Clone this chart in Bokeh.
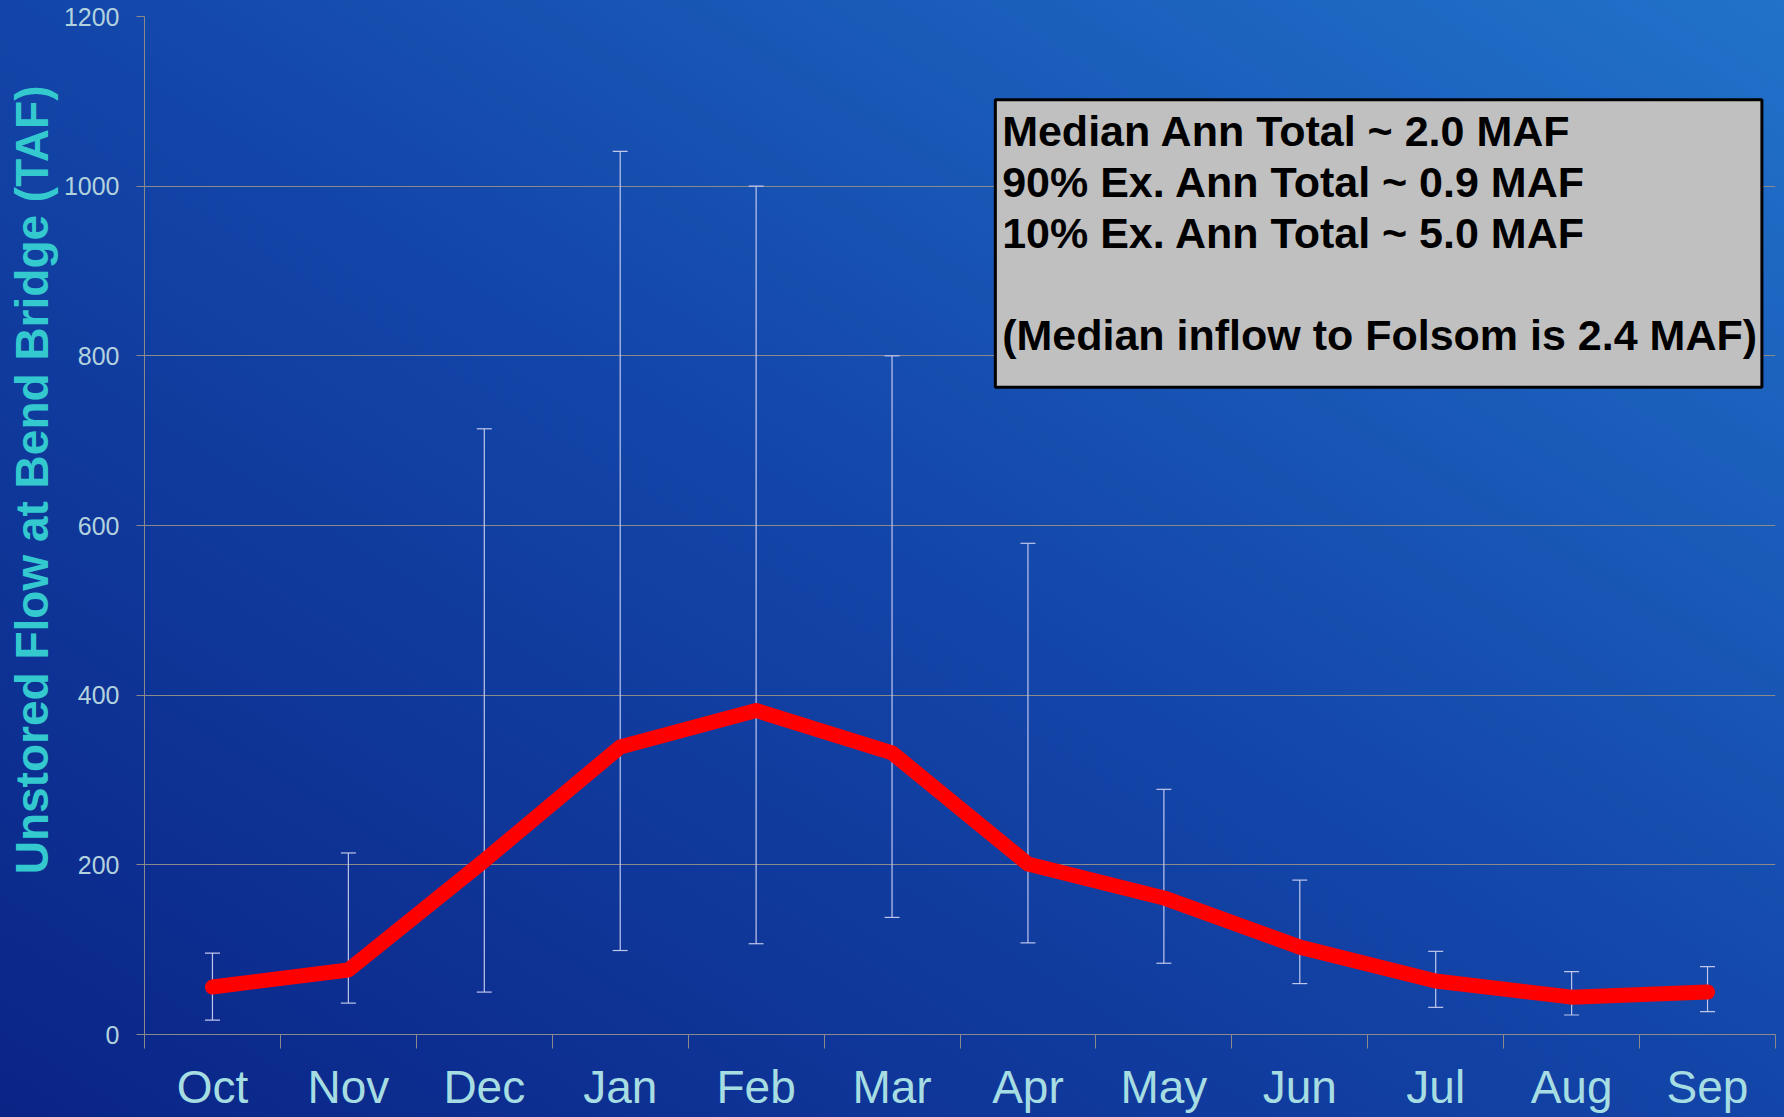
import numpy as np
from bokeh.plotting import figure
from bokeh.models import (ColumnDataSource, Whisker, TeeHead, FixedTicker, Range1d,
                          BoxAnnotation, Label, Title)
from bokeh.embed import file_html
from bokeh.resources import INLINE

# ---- data (TAF) ----
months = ["Oct", "Nov", "Dec", "Jan", "Feb", "Mar", "Apr", "May", "Jun", "Jul", "Aug", "Sep"]
median_flow = [56, 76, 205, 339, 382, 332, 201, 161, 103, 63, 44, 50]
exceed_90 = [17, 37, 50, 99, 107, 138, 108, 84, 60, 32, 23, 27]      # lower whisker
exceed_10 = [96, 214, 714, 1041, 1000, 800, 579, 289, 182, 98, 74, 80]  # upper whisker
y_ticks = [0, 200, 400, 600, 800, 1000, 1200]
y_label = "Unstored Flow at Bend Bridge (TAF)"
note_lines = ["Median Ann Total ~ 2.0 MAF",
              "90% Ex. Ann Total ~ 0.9 MAF",
              "10% Ex. Ann Total ~ 5.0 MAF",
              "",
              "(Median inflow to Folsom is 2.4 MAF)"]

xpos = np.arange(len(months)) + 0.5
src = ColumnDataSource(dict(x=xpos, med=median_flow, lo=exceed_90, hi=exceed_10))

FONT = "Liberation Sans"
GRID = "#8a8a8a"

p = figure(width=1782, height=1115, output_backend="svg", toolbar_location=None,
           x_range=Range1d(0, len(months)), y_range=Range1d(0, 1200),
           min_border_left=143, min_border_top=16, min_border_right=7, min_border_bottom=10)
p.background_fill_alpha = 0
p.border_fill_alpha = 0
p.outline_line_color = None

# axes
p.xaxis.ticker = FixedTicker(ticks=list(xpos), minor_ticks=list(range(len(months) + 1)))
p.xaxis.major_label_overrides = {float(x): m for x, m in zip(xpos, months)}
p.xaxis.major_tick_out = 0
p.xaxis.major_tick_in = 0
p.xaxis.minor_tick_out = 14
p.xaxis.minor_tick_in = 0
p.xaxis.minor_tick_line_color = GRID
p.xaxis.axis_line_color = GRID
p.xaxis.major_label_text_font = FONT
p.xaxis.major_label_text_font_size = "46px"
p.xaxis.major_label_text_color = "#a6dde2"
p.xaxis.major_label_standoff = 12

p.yaxis.ticker = FixedTicker(ticks=y_ticks, minor_ticks=[])
p.yaxis.major_tick_out = 8
p.yaxis.major_tick_in = 0
p.yaxis.major_tick_line_color = GRID
p.yaxis.axis_line_color = GRID
p.yaxis.major_label_text_font = FONT
p.yaxis.major_label_text_font_size = "25px"
p.yaxis.major_label_text_color = "#b2d2de"
p.yaxis.major_label_standoff = 17

p.xgrid.grid_line_color = None
p.ygrid.grid_line_color = GRID
p.ygrid.grid_line_width = 1.2

# y-axis title, placed above centre like the original
p.add_layout(Title(text=y_label, align="right", offset=69, text_font=FONT,
                   text_font_style="bold", text_font_size="46px", text_color="#33c9cf",
                   standoff=6), "left")

# error bars
wh = Whisker(source=src, base="x", upper="hi", lower="lo", dimension="height",
             line_color="#c0c6ec", line_width=1.2,
             upper_head=TeeHead(size=15, line_color="#c0c6ec", line_width=1.2),
             lower_head=TeeHead(size=15, line_color="#c0c6ec", line_width=1.2))
p.add_layout(wh)

# median line
p.line("x", "med", source=src, line_color="#ff0000", line_width=15,
       line_cap="round", line_join="round")

# annotation box
p.add_layout(BoxAnnotation(left=6.26, right=11.9, top=1102, bottom=763,
                           fill_color="#c0c0c0", fill_alpha=1.0,
                           line_color="#000000", line_alpha=1.0, line_width=3,
                           level="annotation"))
first_baseline = 1065
line_step = 60.2
for i, line in enumerate(note_lines):
    if line:
        p.add_layout(Label(x=6.31, y=first_baseline - i * line_step, text=line, text_font=FONT,
                           text_font_style="bold", text_font_size="43px", text_color="#000000",
                           text_baseline="alphabetic", text_align="left"))

STYLE = ("<style>html,body{background:linear-gradient(to top right,#0a2486 0%,#1345a8 50%,#2172ca 100%);"
         "background-attachment:fixed;min-height:100%;}</style>")
open("out.html", "w").write(file_html(p, INLINE).replace("</head>", STYLE + "</head>"))
